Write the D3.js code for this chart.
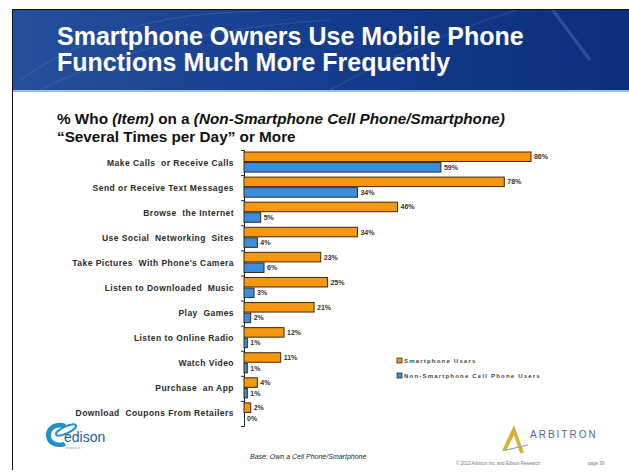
<!DOCTYPE html>
<html>
<head>
<meta charset="utf-8">
<script src="https://cdn.jsdelivr.net/npm/d3@7"></script>
<style>
  body { margin: 0; background: #fff; }
  text { font-family: "Liberation Sans", Arial, sans-serif; }
</style>
</head>
<body>
<div id="viz"></div>
<script>
// data
var categories = [
  "Make Calls  or Receive Calls",
  "Send or Receive Text Messages",
  "Browse  the Internet",
  "Use Social  Networking  Sites",
  "Take Pictures  With Phone's Camera",
  "Listen to Downloaded  Music",
  "Play  Games",
  "Listen to Online Radio",
  "Watch Video",
  "Purchase  an App",
  "Download  Coupons From Retailers"
];
var smartphone = [86, 78, 46, 34, 23, 25, 21, 12, 11, 4, 2];
var nonSmartphone = [59, 34, 5, 4, 6, 3, 2, 1, 1, 1, 0];
var seriesNames = ["Smartphone Users", "Non-Smartphone Cell Phone Users"];

var width = 629, height = 474;
var orange = "#f7960f", blue = "#3b8de0";

var svg = d3.select('#viz').append('svg')
  .attr('width', width)
  .attr('height', height);

// slide frame + banner
var defs = svg.append('defs');
var grad = defs.append('linearGradient').attr('id', 'bannerGrad')
  .attr('x1', 0).attr('y1', 0).attr('x2', 1).attr('y2', 0);
grad.append('stop').attr('offset', '0%').attr('stop-color', '#24509c');
grad.append('stop').attr('offset', '50%').attr('stop-color', '#143d8e');
grad.append('stop').attr('offset', '100%').attr('stop-color', '#0c2f7d');

svg.append('rect').attr('x', 12).attr('y', 9).attr('width', width - 12).attr('height', 81)
  .attr('fill', 'url(#bannerGrad)');
// faint arcs in banner
var g_arc = svg.append('g').attr('fill', 'none').attr('stroke', '#ffffff').attr('stroke-opacity', 0.08).attr('stroke-width', 1.5);
g_arc.append('path').attr('d', 'M20,80 Q120,10 260,12');
g_arc.append('path').attr('d', 'M40,90 Q160,30 330,20');
g_arc.append('path').attr('d', 'M330,90 Q420,40 520,9');
g_arc.append('path').attr('d', 'M552,9 L590,60').attr('stroke-opacity', 0.15).attr('stroke-width', 3);
svg.append('rect').attr('x', 12).attr('y', 90).attr('width', width - 12).attr('height', 2)
  .attr('fill', '#8fc4ea');

svg.append('line').attr('x1', 12).attr('x2', width).attr('y1', 9.5).attr('y2', 9.5).attr('stroke', '#111');
svg.append('line').attr('x1', 12.5).attr('x2', 12.5).attr('y1', 9).attr('y2', 470).attr('stroke', '#111');

var g_title = svg.append('g').attr('fill', '#fff').style('font-weight', 'bold').style('font-size', '25px');
g_title.append('text').attr('x', 57).attr('y', 45).text('Smartphone Owners Use Mobile Phone');
g_title.append('text').attr('x', 57).attr('y', 71).text('Functions Much More Frequently');

// subtitle
var sub = svg.append('text').attr('x', 57).attr('y', 124)
  .style('font-weight', 'bold').style('font-size', '15.3px').attr('fill', '#111');
sub.append('tspan').text('% Who ');
sub.append('tspan').style('font-style', 'italic').text('(Item)');
sub.append('tspan').text(' on a ');
sub.append('tspan').style('font-style', 'italic').text('(Non-Smartphone Cell Phone/Smartphone)');
svg.append('text').attr('x', 57).attr('y', 142)
  .style('font-weight', 'bold').style('font-size', '15.3px').attr('fill', '#111')
  .text('\u201cSeveral Times per Day\u201d or More');

// scales
var x = d3.scaleLinear().domain([0, 100]).range([244, 244 + 333.7]);
var y = d3.scaleBand().domain(categories).range([150, 426]);
var inner = d3.scaleBand().domain(seriesNames).range([2, y.bandwidth() - 3]).paddingInner(0.1);
var yTicks = d3.scaleLinear().domain([0, categories.length]).range([150, 426]);

var g = svg.append('g');

// axis with ticks on band boundaries
var axis = g.append('g').attr('transform', 'translate(244,0)')
  .call(d3.axisLeft(yTicks).ticks(categories.length).tickSize(3).tickSizeOuter(3).tickFormat(''));
axis.selectAll('path,line').attr('stroke', '#222');

// category labels
g.selectAll('.cat').data(categories).enter().append('text')
  .attr('class', 'cat')
  .attr('x', 234)
  .attr('y', function(d) { return y(d) + y.bandwidth() / 2 + 3; })
  .attr('text-anchor', 'end')
  .style('font-size', '8.5px')
  .style('font-weight', 'bold')
  .style('letter-spacing', '0.45px')
  .style('white-space', 'pre')
  .attr('fill', '#2a2a2a')
  .text(function(d) { return d; });

var rows = categories.map(function(c, i) {
  return [
    { cat: c, s: seriesNames[0], v: smartphone[i], color: orange },
    { cat: c, s: seriesNames[1], v: nonSmartphone[i], color: blue }
  ];
});
var flat = [].concat.apply([], rows);

g.selectAll('.bar').data(flat).enter().append('rect')
  .attr('class', 'bar')
  .attr('x', x(0))
  .attr('y', function(d) { return y(d.cat) + inner(d.s); })
  .attr('width', function(d) { return x(d.v) - x(0); })
  .attr('height', inner.bandwidth())
  .attr('fill', function(d) { return d.color; })
  .attr('stroke', '#3a2a10')
  .attr('stroke-width', 1);

g.selectAll('.val').data(flat).enter().append('text')
  .attr('class', 'val')
  .attr('x', function(d) { return x(d.v) + 3; })
  .attr('y', function(d) { return y(d.cat) + inner(d.s) + inner.bandwidth() / 2 + 2.5; })
  .style('font-size', '7px').style('font-weight', 'bold')
  .attr('fill', '#333')
  .text(function(d) { return d.v + '%'; });

// legend
var legend = svg.append('g').attr('transform', 'translate(397,358)');
seriesNames.forEach(function(name, i) {
  var row = legend.append('g').attr('transform', 'translate(0,' + (i * 15) + ')');
  row.append('rect').attr('width', 5).attr('height', 5)
    .attr('fill', i === 0 ? orange : blue).attr('stroke', '#333').attr('stroke-width', 0.8);
  row.append('text').attr('x', 7).attr('y', 5)
    .style('font-size', '6px').style('font-weight', 'bold').style('letter-spacing', '1.2px').attr('fill', '#444')
    .text(name);
});

// footer
svg.append('text').attr('x', 250).attr('y', 459)
  .style('font-size', '7px').style('font-style', 'italic').attr('fill', '#222')
  .text('Base: Own a Cell Phone/Smartphone');
svg.append('text').attr('x', 456).attr('y', 465)
  .style('font-size', '4.5px').attr('fill', '#777')
  .text('\u00a9 2012 Arbitron Inc. and Edison Research');
svg.append('text').attr('x', 588).attr('y', 465)
  .style('font-size', '4.5px').attr('fill', '#777')
  .text('page 39');

// edison logo
var ed = svg.append('g').attr('transform', 'translate(44,418)');
ed.append('path')
  .attr('d', 'M22,6 C12,2 2,8 2,17 C2,27 12,31 22,28 L20,24 C13,26 7,23 7,17 C7,11 13,8 20,10 Z')
  .attr('fill', '#1f8fd0');
ed.append('ellipse').attr('cx', 22).attr('cy', 12).attr('rx', 11).attr('ry', 3.5)
  .attr('transform', 'rotate(-25,22,12)').attr('fill', 'none').attr('stroke', '#1f8fd0').attr('stroke-width', 2);
ed.append('text').attr('x', 20).attr('y', 24).style('font-size', '14px').attr('fill', '#1a5d9a').text('edison');
ed.append('text').attr('x', 21).attr('y', 31).style('font-size', '4px').attr('fill', '#999').text('research');

// arbitron logo
var ab = svg.append('g').attr('transform', 'translate(500,423)');
ab.append('path').attr('d', 'M2,28 L14,2 L24,30 L20,30 L14,12 L6,28 Z').attr('fill', '#d8b030');
ab.append('path').attr('d', 'M6,27 L28,22').attr('stroke', '#8aa0c8').attr('stroke-width', 1.2);
ab.append('text').attr('x', 30).attr('y', 15)
  .style('font-size', '10px').style('letter-spacing', '2px').attr('fill', '#4a6a9a')
  .text('ARBITRON');
</script>
</body>
</html>
